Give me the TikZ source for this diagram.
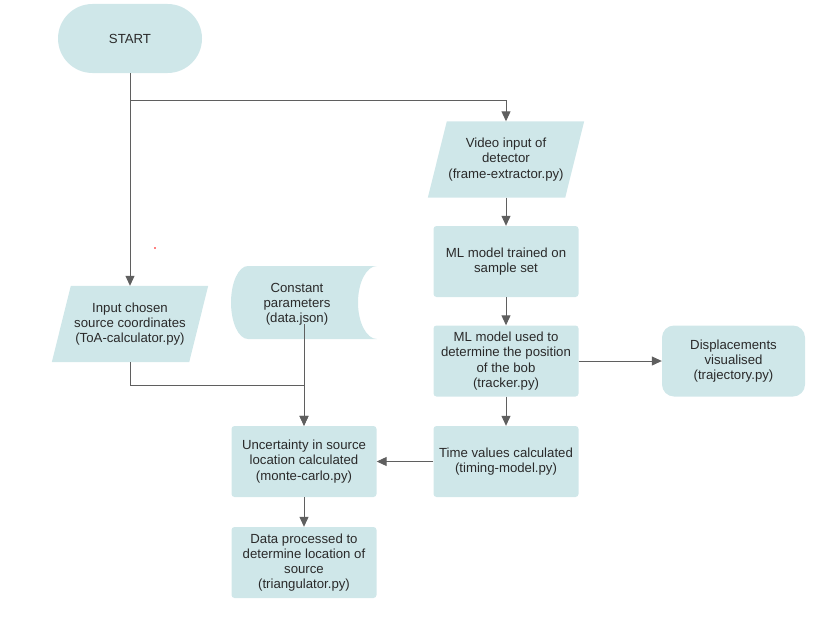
\documentclass[tikz,border=0pt]{standalone}
\usepackage{fontspec}
\setmainfont{Liberation Sans}
\usetikzlibrary{arrows.meta,calc}
\definecolor{boxfill}{HTML}{CFE7E9}
\definecolor{linegray}{HTML}{5F5F5F}
\definecolor{txtgray}{HTML}{2A2A2A}
\pgfdeclarelayer{bg}
\pgfsetlayers{bg,main}
\begin{document}
\begin{tikzpicture}[x=1pt,y=1pt,
  font=\fontsize{13.2}{15.2}\selectfont,
  every node/.style={text=txtgray,align=center,inner sep=0pt},
  procbox/.style={fill=boxfill,rounded corners=3pt,minimum width=145pt,minimum height=71pt},
  softbox/.style={fill=boxfill,rounded corners=12pt,minimum width=143pt,minimum height=71pt},
  termbox/.style={fill=boxfill,rounded corners=34.5pt,minimum width=144pt,minimum height=69pt},
  iobox/.style={minimum width=156pt,minimum height=76pt},
  flow/.style={draw=linegray,line width=1pt,-{Triangle[length=10pt,width=9pt]}},
]
\useasboundingbox (0,0) rectangle (821,-626);

% terminator
\node[termbox] (start) at (130,-38.5) {START};

% input/output shapes (parallelograms drawn on the background layer)
\node[iobox] (vid) at (506,-159.5) {Video input of\\detector\\(frame-extractor.py)};
\node[iobox] (inp) at (130,-324) {Input chosen\\source coordinates\\(ToA-calculator.py)};

% process boxes
\node[procbox] (train) at (506,-261.5) {ML model trained on\\sample set};
\node[procbox] (used) at (506,-361) {ML model used to\\determine the position\\of the bob\\(tracker.py)};
\node[procbox] (time) at (506,-461.5) {Time values calculated\\(timing-model.py)};
\node[procbox] (unc) at (304,-461.5) {Uncertainty in source\\location calculated\\(monte-carlo.py)};
\node[procbox] (tri) at (304,-562.5) {Data processed to\\determine location of\\source\\(triangulator.py)};
\node[softbox] (disp) at (733.5,-361) {Displacements\\visualised\\(trajectory.py)};

% stored data
\node (const) at (297,-304.5) {Constant\\parameters\\(data.json)};
\coordinate (constout) at (304,-324);

\begin{pgfonlayer}{bg}
  \foreach \p in {vid,inp}{
    \fill[boxfill] ($(\p.north west)+(19,0)$) -- (\p.north east)
      -- ($(\p.south east)-(19,0)$) -- (\p.south west) -- cycle;
  }
  \fill[boxfill] (248,-266) -- (377,-266)
    arc[start angle=90,end angle=270,x radius=19,y radius=36.5]
    -- (248,-339)
    arc[start angle=270,end angle=90,x radius=17,y radius=36.5] -- cycle;
\end{pgfonlayer}

% connectors
\draw[flow] (start.south) -- (inp.north);
\draw[flow] ([yshift=-27pt]start.south) -| (vid.north);
\draw[flow] (vid.south) -- (train.north);
\draw[flow] (train.south) -- (used.north);
\draw[flow] (used.south) -- (time.north);
\draw[flow] (used.east) -- (disp.west);
\draw[flow] (time.west) -- (unc.east);
\draw[flow] (inp.south) -- ++(0,-23) -| (unc.north);
\draw[flow] (constout) -- (unc.north);
\draw[flow] (unc.south) -- (tri.north);

% stray mark
\fill[red] (155,-248) circle (0.8);
\end{tikzpicture}
\end{document}
